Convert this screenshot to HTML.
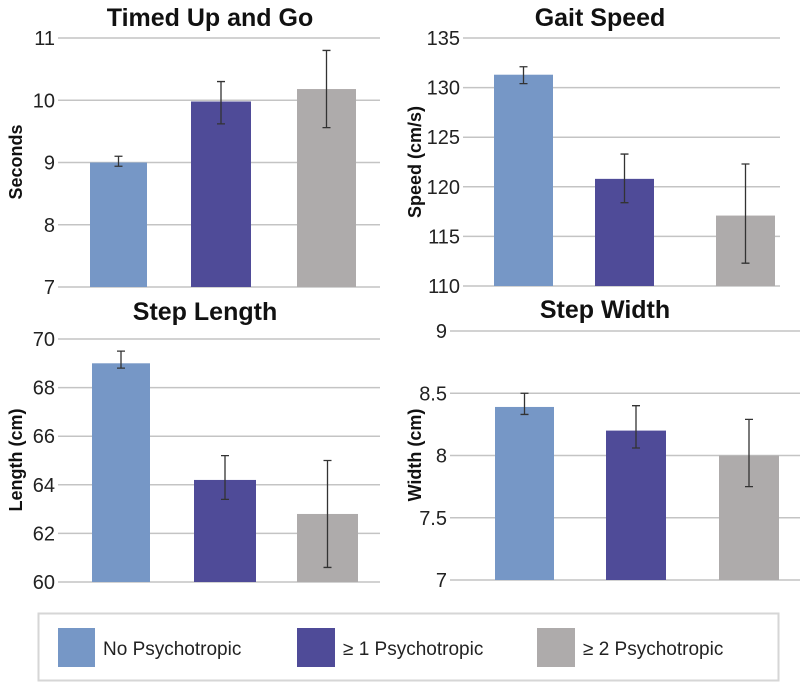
<!DOCTYPE html>
<html><head><meta charset="utf-8"><style>
body{margin:0;background:#fff;width:800px;height:682px;overflow:hidden}
svg{font-family:"Liberation Sans",sans-serif}
</style></head><body>
<svg id="c" width="800" height="682">
<g>
<rect x="38.5" y="613.5" width="740" height="67" fill="#fff" stroke="#d6d6d6" stroke-width="2"/>
<rect x="58" y="628" width="37" height="39" fill="#7697c6"/>
<text x="103" y="655" font-size="19" fill="#222">No Psychotropic</text>
<rect x="297" y="628" width="38" height="39" fill="#4f4b98"/>
<text x="343" y="655" font-size="19" fill="#222">≥ 1 Psychotropic</text>
<rect x="537" y="628" width="38" height="39" fill="#aeabab"/>
<text x="583" y="655" font-size="19" fill="#222">≥ 2 Psychotropic</text>
</g>
</svg>
<script>
const colors=["#7697c6","#4f4b98","#aeabab"];
const tugValues=[9.0,9.98,10.18];
const tugLow=[8.94,9.62,9.56];
const tugHigh=[9.1,10.3,10.8];
const tugTicks=["7","8","9","10","11"];
const gaitValues=[131.3,120.8,117.1];
const gaitLow=[130.4,118.4,112.3];
const gaitHigh=[132.1,123.3,122.3];
const gaitTicks=["110","115","120","125","130","135"];
const lenValues=[69.0,64.2,62.8];
const lenLow=[68.8,63.4,60.6];
const lenHigh=[69.5,65.2,65.0];
const lenTicks=["60","62","64","66","68","70"];
const widValues=[8.39,8.2,8.0];
const widLow=[8.33,8.06,7.75];
const widHigh=[8.5,8.4,8.29];
const widTicks=["7","7.5","8","8.5","9"];
const panels=[
{name:"timed-up-and-go",title:"Timed Up and Go",ytitle:"Seconds",v:tugValues,lo:tugLow,hi:tugHigh,ticks:tugTicks,x0:58,x1:380,yTop:38,yBot:287,bars:[[90,147],[191,251],[297,356]],tx:210,ty:26,ytx:22,yty:162},
{name:"gait-speed",title:"Gait Speed",ytitle:"Speed (cm/s)",v:gaitValues,lo:gaitLow,hi:gaitHigh,ticks:gaitTicks,x0:463,x1:780,yTop:38,yBot:286,bars:[[494,553],[595,654],[716,775]],tx:600,ty:26,ytx:421,yty:162},
{name:"step-length",title:"Step Length",ytitle:"Length (cm)",v:lenValues,lo:lenLow,hi:lenHigh,ticks:lenTicks,x0:58,x1:380,yTop:339,yBot:582,bars:[[92,150],[194,256],[297,358]],tx:205,ty:320,ytx:22,yty:460},
{name:"step-width",title:"Step Width",ytitle:"Width (cm)",v:widValues,lo:widLow,hi:widHigh,ticks:widTicks,x0:450,x1:800,yTop:331,yBot:580,bars:[[495,554],[606,666],[719,779]],tx:605,ty:318,ytx:421,yty:455}
];
const svg=document.getElementById('c');
const NS="http://www.w3.org/2000/svg";
function mk(t,a,p){const e=document.createElementNS(NS,t);for(const k in a)e.setAttribute(k,a[k]);p.appendChild(e);return e;}
panels.forEach(p=>{
 const g=mk('g',{},svg);
 
 
 const tmin=parseFloat(p.ticks[0]),tmax=parseFloat(p.ticks[p.ticks.length-1]);
 const y=v=>p.yBot-(v-tmin)/(tmax-tmin)*(p.yBot-p.yTop);
 p.ticks.forEach(t=>{
  const yy=y(parseFloat(t));
  const l=mk('line',{x1:p.x0,x2:p.x1,y1:yy,y2:yy,stroke:"#c4c4c4","stroke-width":1.5},g);
  
  
  const tx=mk('text',{x:p.x0-3,y:yy+7,"font-size":20,"text-anchor":"end",fill:"#222"},g);
  tx.textContent=t;
  
  
 });
 p.v.forEach((v,i)=>{
  const [a,b]=p.bars[i];
  const r=mk('rect',{x:a,y:y(v),width:b-a,height:p.yBot-y(v),fill:colors[i]},g);
  
  
  const cx=(a+b)/2;
  const e=mk('path',{d:`M${cx},${y(p.lo[i])}V${y(p.hi[i])}M${cx-4},${y(p.lo[i])}H${cx+4}M${cx-4},${y(p.hi[i])}H${cx+4}`,stroke:"#333","stroke-width":1.3,fill:"none"},g);
  
  
 });
 const t=mk('text',{x:p.tx,y:p.ty,"font-size":25,"font-weight":"bold","text-anchor":"middle",fill:"#111"},g);
 t.textContent=p.title;
 
 
 const yt=mk('text',{x:0,y:0,"font-size":18,"font-weight":"bold","text-anchor":"middle",fill:"#111",transform:`translate(${p.ytx},${p.yty}) rotate(-90)`},g);
 yt.textContent=p.ytitle;
 
 
});
</script>
</body></html>
